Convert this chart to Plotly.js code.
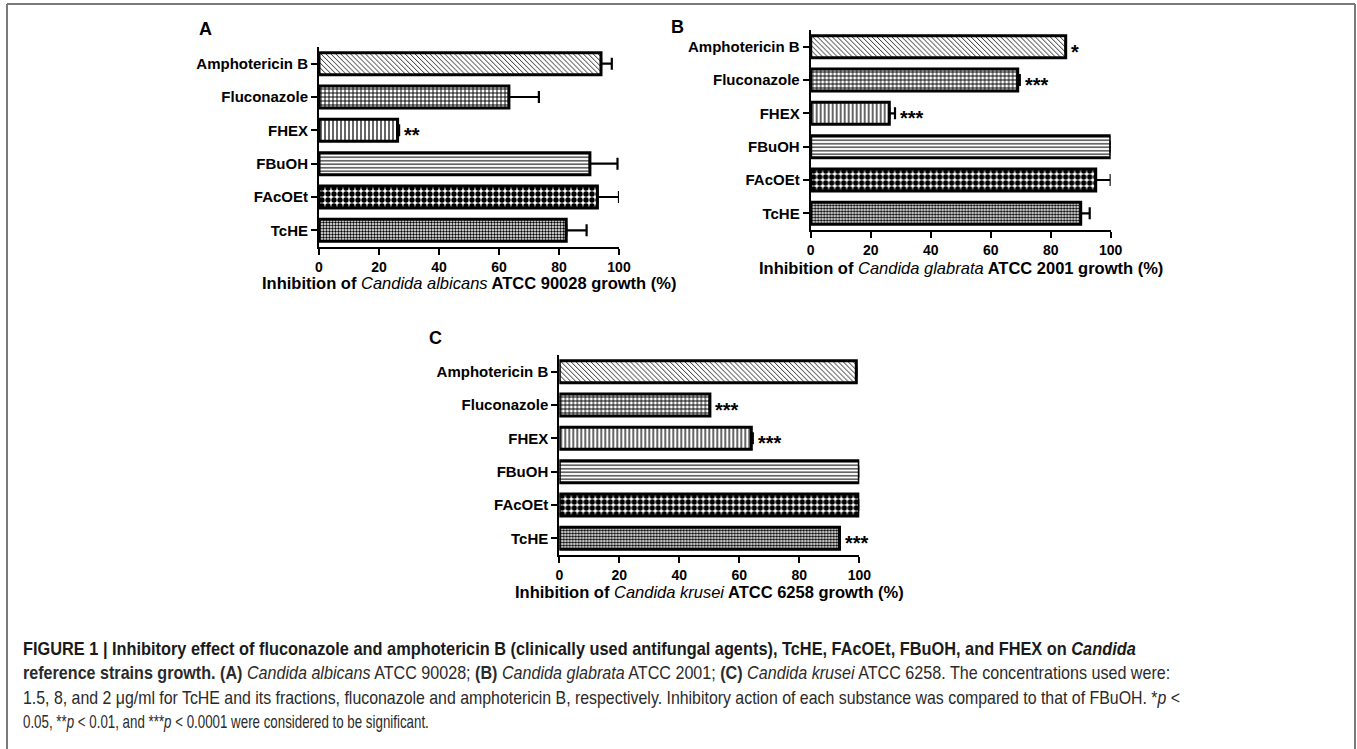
<!DOCTYPE html>
<html>
<head>
<meta charset="utf-8">
<script src="https://cdn.plot.ly/plotly-3.0.1.min.js"></script>
<style>
html,body{margin:0;padding:0;background:#fff;}
#chart{width:1357px;height:749px;}
</style>
</head>
<body>
<div id="chart"></div>
<script>
// ---------- data ----------
const categories = ["Amphotericin B", "Fluconazole", "FHEX", "FBuOH", "FAcOEt", "TcHE"];

const valuesA = [94, 63.3, 26.2, 90.3, 92.8, 82.4];
const errorsA = [3.6, 10, 0.5, 9.2, 7.2, 6.8];
const starsA  = ["", "", "**", "", "", ""];

const valuesB = [85, 69, 26.2, 100, 95, 90];
const errorsB = [0, 0.7, 1.9, 0, 5, 3];
const starsB  = ["*", "***", "***", "", "", ""];

const valuesC = [99, 50.2, 64, 100, 100, 93.4];
const errorsC = [0, 0, 0.5, 0, 0, 0];
const starsC  = ["", "***", "***", "", "", "***"];

const xTicks = [0, 20, 40, 60, 80, 100];

const titleA = "<b>Inhibition of </b><i>Candida albicans</i><b> ATCC 90028 growth (%)</b>";
const titleB = "<b>Inhibition of </b><i>Candida glabrata</i><b> ATCC 2001 growth (%)</b>";
const titleC = "<b>Inhibition of </b><i>Candida krusei</i><b> ATCC 6258 growth (%)</b>";

const captionLines = [
  "<b>FIGURE 1 | Inhibitory effect of fluconazole and amphotericin B (clinically used antifungal agents), TcHE, FAcOEt, FBuOH, and FHEX on <i>Candida</i></b>",
  "<b>reference strains growth. (A)</b> <i>Candida albicans</i> ATCC 90028; <b>(B)</b> <i>Candida glabrata</i> ATCC 2001; <b>(C)</b> <i>Candida krusei</i> ATCC 6258. The concentrations used were:",
  "1.5, 8, and 2 μg/ml for TcHE and its fractions, fluconazole and amphotericin B, respectively. Inhibitory action of each substance was compared to that of FBuOH. *<i>p</i> &lt;",
  "0.05, **<i>p</i> &lt; 0.01, and ***<i>p</i> &lt; 0.0001 were considered to be significant."
];

// ---------- styling ----------
const W = 1357, H = 749;
const FONT = "Liberation Sans, Arial, sans-serif";
const CAPFONT = "Liberation Sans, Arial, sans-serif";
const patShapes = ["\\", "+", "|", "-", ".", "."];
const patSizes = [3.5, 4, 4, 3.5, 6, 3];
const patSolid = [0.24, 0.42, 0.3, 0.3, 0.62, 0.5];

const px = v => v / W;
const py = v => 1 - v / H;

const panels = [
  {vals: valuesA, errs: errorsA, stars: starsA, title: titleA, letter: "A",
   xd: [319, 619], yd: [47, 247], titleY: 283, letterPos: [205, 29]},
  {vals: valuesB, errs: errorsB, stars: starsB, title: titleB, letter: "B",
   xd: [810.7, 1110.7], yd: [30, 230], titleY: 268, letterPos: [677, 27]},
  {vals: valuesC, errs: errorsC, stars: starsC, title: titleC, letter: "C",
   xd: [559.3, 859.3], yd: [355, 555], titleY: 592, letterPos: [436, 338]}
];

const traces = [];
const layout = {
  width: W, height: H, autosize: false,
  margin: {l: 0, r: 0, t: 0, b: 0},
  paper_bgcolor: "#fff", plot_bgcolor: "rgba(0,0,0,0)",
  showlegend: false,
  font: {family: FONT, color: "#000"},
  annotations: [], shapes: []
};

panels.forEach((p, i) => {
  const sfx = i === 0 ? "" : String(i + 1);
  const xa = "x" + sfx, ya = "y" + sfx;
  traces.push({
    type: "bar", orientation: "h",
    x: p.vals, y: categories,
    xaxis: xa, yaxis: ya,
    width: 0.66,
    marker: {
      color: "#fff",
      line: {color: "#000", width: 3},
      pattern: {shape: patShapes, size: patSizes, solidity: patSolid, fgcolor: "#000", bgcolor: "#fff", fillmode: "replace"}
    },
    error_x: {type: "data", symmetric: false, array: p.errs, arrayminus: p.errs.map(() => 0),
              color: "#000", thickness: 2.2, width: 6},
    hoverinfo: "skip"
  });
  layout["xaxis" + sfx] = {
    domain: [px(p.xd[0]), px(p.xd[1])], anchor: ya,
    range: [0, 100], tickvals: xTicks, ticktext: xTicks.map(String),
    ticks: "outside", ticklen: 6, tickwidth: 2, tickcolor: "#000",
    showline: true, linewidth: 2, linecolor: "#000",
    showgrid: false, zeroline: false,
    tickfont: {family: FONT, size: 14, weight: "bold", color: "#000"}
  };
  layout["yaxis" + sfx] = {
    domain: [py(p.yd[1]), py(p.yd[0])], anchor: xa,
    type: "category", categoryorder: "array", categoryarray: categories,
    range: [5.5, -0.5],
    ticks: "outside", ticklen: 6, tickwidth: 2, tickcolor: "#000",
    showline: true, linewidth: 2, linecolor: "#000",
    showgrid: false, zeroline: false,
    tickfont: {family: FONT, size: 15, weight: "bold", color: "#000"}
  };
  layout.annotations.push({
    xref: "paper", yref: "paper", x: px((p.xd[0] + p.xd[1]) / 2), y: py(p.titleY),
    xanchor: "center", yanchor: "middle", showarrow: false,
    text: p.title, font: {family: FONT, size: 16.5, color: "#000"}
  });
  layout.annotations.push({
    xref: "paper", yref: "paper", x: px(p.letterPos[0]), y: py(p.letterPos[1]),
    xanchor: "center", yanchor: "middle", showarrow: false,
    text: "<b>" + p.letter + "</b>", font: {family: FONT, size: 18, color: "#000"}
  });
  p.stars.forEach((s, j) => {
    if (!s) return;
    layout.annotations.push({
      xref: xa, yref: ya, x: p.vals[j] + p.errs[j], y: categories[j],
      xanchor: "left", yanchor: "middle", showarrow: false, xshift: 3, yshift: -5,
      text: "<b>" + s + "</b>", font: {family: FONT, size: 20, color: "#000"}
    });
  });
});

// caption
const capY = [649, 673, 698, 722];
const capWidths = [1113, 1148, 1158, 406];
const capIdx = [];
captionLines.forEach((t, k) => {
  capIdx.push(layout.annotations.length);
  layout.annotations.push({
    xref: "paper", yref: "paper", x: px(21), y: py(capY[k]),
    xanchor: "left", yanchor: "middle", showarrow: false, align: "left",
    text: t, font: {family: CAPFONT, size: 18, color: k === 0 ? "#1a1a1a" : "#2a2a2a"}
  });
});

// frame
const fc = "#7a7a7a";
layout.shapes.push(
  {type: "line", xref: "paper", yref: "paper", x0: px(7), x1: px(7), y0: py(4), y1: 0, line: {color: fc, width: 2}},
  {type: "line", xref: "paper", yref: "paper", x0: px(7), x1: px(1355), y0: py(4), y1: py(4), line: {color: fc, width: 2}},
  {type: "line", xref: "paper", yref: "paper", x0: px(1355), x1: px(1355), y0: py(4), y1: 0, line: {color: fc, width: 2}}
);

Plotly.newPlot("chart", traces, layout, {displayModeBar: false, staticPlot: true}).then(gd => {
  // condense caption lines horizontally to the reference's narrow typeface widths
  capIdx.forEach((idx, k) => {
    const g = gd.querySelector('.annotation[data-index="' + idx + '"]');
    if (!g) return;
    const t = g.querySelector('text.annotation-text');
    if (!t) return;
    const bb = t.getBBox();
    const s = capWidths[k] / bb.width;
    const prev = t.getAttribute('transform') || '';
    t.setAttribute('transform', prev + ' translate(' + bb.x + ',0) scale(' + s + ',1) translate(' + (-bb.x) + ',0)');
  });
});
</script>
</body>
</html>
